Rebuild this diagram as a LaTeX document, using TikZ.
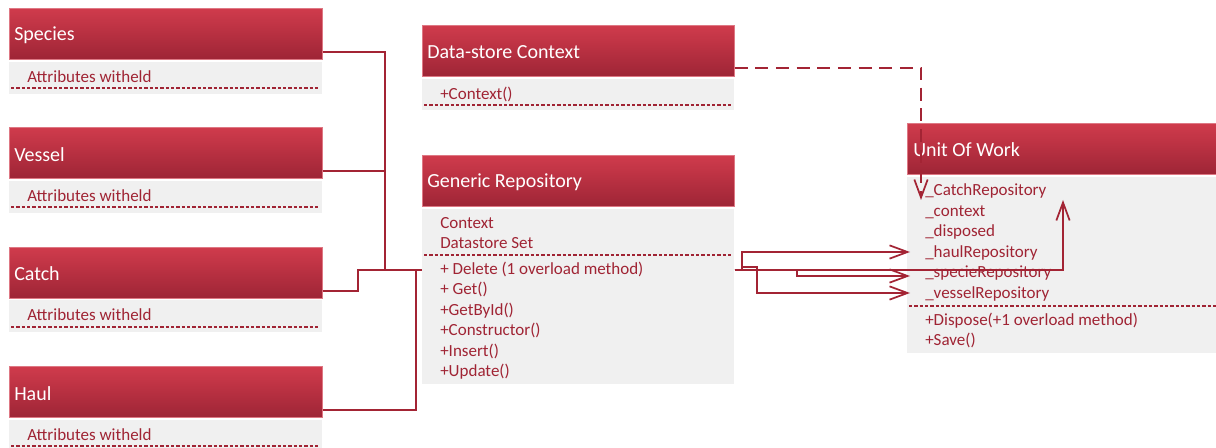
\documentclass[tikz,border=0pt]{standalone}
\usepackage{fontspec}
\setmainfont{Carlito}
\usetikzlibrary{arrows.meta,calc}

\definecolor{hdrtop}{RGB}{208,59,76}
\definecolor{hdrbot}{RGB}{158,37,54}
\definecolor{hdredge}{RGB}{222,120,132}
\definecolor{bodyfill}{RGB}{240,240,240}
\definecolor{ink}{RGB}{160,36,52}
\definecolor{wire}{RGB}{163,36,52}

\tikzset{
  x=0.75pt, y=-0.75pt,
  hdr/.style={anchor=north west, inner sep=0pt, minimum height=38.25pt,
    top color=hdrtop, bottom color=hdrbot, draw=hdredge, line width=0.4pt},
  classbody/.style={anchor=north west, inner sep=0pt, fill=bodyfill, draw=none},
  title/.style={anchor=west, inner sep=0pt, text=white, yshift=-1.2pt,
    font=\fontsize{15}{18}\selectfont},
  row/.style={anchor=west, inner sep=0pt, text=ink, yshift=-1.1pt,
    font=\fontsize{12.75}{15}\selectfont},
  sep/.style={draw=ink, line width=0.8pt, dash pattern=on 2.5pt off 1.5pt},
  wire/.style={draw=wire, line width=1.5pt},
  opentip/.style={-{Straight Barb[length=13.5pt,width=10pt,line width=1.3pt]}},
  depend/.style={dash pattern=on 9.75pt off 5.75pt},
}

\begin{document}
\begin{tikzpicture}
\useasboundingbox (0,0) rectangle (1216,448);
\clip (0,0) rectangle (1216,448);

% ---------- entity classes on the left ----------
\node[hdr, minimum width=234.75pt] (species) at (9,8) {};
\node[title] (species-t) at (14,34) {Species};
\node[classbody, minimum width=234.75pt, minimum height=24pt] (species-b) at (9,62) {};
\node[row] (species-a) at (27,75) {Attributes witheld};
\draw[sep] (11,88) -- (320,88);

\node[hdr, minimum width=234.75pt] (vessel) at (9,127) {};
\node[title] (vessel-t) at (14,153) {Vessel};
\node[classbody, minimum width=234.75pt, minimum height=24pt] (vessel-b) at (9,181) {};
\node[row] (vessel-a) at (27,194) {Attributes witheld};
\draw[sep] (11,207) -- (320,207);

\node[hdr, minimum width=234.75pt] (catch) at (9,247) {};
\node[title] (catch-t) at (14,272) {Catch};
\node[classbody, minimum width=234.75pt, minimum height=24pt] (catch-b) at (9,300) {};
\node[row] (catch-a) at (27,313) {Attributes witheld};
\draw[sep] (11,327) -- (320,327);

\node[hdr, minimum width=234.75pt] (haul) at (9,366) {};
\node[title] (haul-t) at (14,392) {Haul};
\node[classbody, minimum width=234.75pt, minimum height=24pt] (haul-b) at (9,420) {};
\node[row] (haul-a) at (27,433) {Attributes witheld};
\draw[sep] (11,446) -- (320,446);

% ---------- data-store context ----------
\node[hdr, minimum width=234pt] (dsc) at (422,25) {};
\node[title] (dsc-t) at (427,50) {Data-store Context};
\node[classbody, minimum width=234pt, minimum height=23.25pt] (dsc-b) at (422,79) {};
\node[row] (dsc-m1) at (440,93) {+Context()};
\draw[sep] (424,105) -- (732,105);

% ---------- generic repository ----------
\node[hdr, minimum width=234pt] (repo) at (422,155) {};
\node[title] (repo-t) at (427,181) {Generic Repository};
\node[classbody, minimum width=234pt, minimum height=131.25pt] (repo-b) at (422,209) {};
\node[row] (repo-f1) at (440,222) {Context};
\node[row] (repo-f2) at (440,242) {Datastore Set};
\draw[sep] (424,255) -- (732,255);
\node[row] (repo-m1) at (440,268) {+ Delete (1 overload method)};
\node[row] (repo-m2) at (440,288) {+ Get()};
\node[row] (repo-m3) at (440,309) {+GetById()};
\node[row] (repo-m4) at (440,329) {+Constructor()};
\node[row] (repo-m5) at (440,350) {+Insert()};
\node[row] (repo-m6) at (440,370) {+Update()};

% ---------- unit of work ----------
\node[hdr, minimum width=234.75pt] (uow) at (907,123) {};
\node[title] (uow-t) at (913,148) {Unit Of Work};
\node[classbody, minimum width=234.75pt, minimum height=132pt] (uow-b) at (907,177) {};
\node[row] (uow-f1) at (925,190) {\_CatchRepository};
\node[row] (uow-f2) at (925,211) {\_context};
\node[row] (uow-f3) at (925,231) {\_disposed};
\node[row] (uow-f4) at (925,252) {\_haulRepository};
\node[row] (uow-f5) at (925,272) {\_specieRepository};
\node[row] (uow-f6) at (925,293) {\_vesselRepository};
\draw[sep] (909,306) -- (1216,306);
\node[row] (uow-m1) at (925,319) {+Dispose(+1 overload method)};
\node[row] (uow-m2) at (925,339) {+Save()};

% ---------- connector end points ----------
\coordinate (species-out) at ([yshift=6pt]species.south east);
\coordinate (vessel-out)  at ([yshift=6pt]vessel.south east);
\coordinate (catch-out)   at ([yshift=6pt]catch.south east);
\coordinate (haul-out)    at ([yshift=6pt]haul.south east);
\coordinate (repo-in)  at (repo-b.west |- 0,270);
\coordinate (repo-out) at (repo-b.east |- 0,270);
\coordinate (dsc-out)  at ([yshift=6.75pt]dsc.south east);
\coordinate (uow-catch)  at (1063,200);
\coordinate (uow-ctx)    at (921,200);
\coordinate (uow-haul)   at (910,252);
\coordinate (uow-specie) at (910,276);
\coordinate (uow-vessel) at (910,293);

% ---------- entities into the generic repository ----------
\draw[wire] (species-out) -| (385,270) -- (repo-in);
\draw[wire] (vessel-out) -| (385,270);
\draw[wire] (catch-out) -| (358,270) -- (repo-in);
\draw[wire] (haul-out) -| (416,270) -- (repo-in);

% ---------- repository fields of the unit of work ----------
\draw[wire, opentip] (repo-out) -| (uow-catch);
\draw[wire, opentip] (repo-out) -| (742,252) -- (uow-haul);
\draw[wire, opentip] (repo-out) -| (742,267) -| (757,293) -- (uow-vessel);
\draw[wire, opentip] (repo-out) -| (797,276) -- (uow-specie);

% ---------- context dependency ----------
\draw[wire, depend, opentip] (dsc-out) -| (uow-ctx);
\end{tikzpicture}
\end{document}
